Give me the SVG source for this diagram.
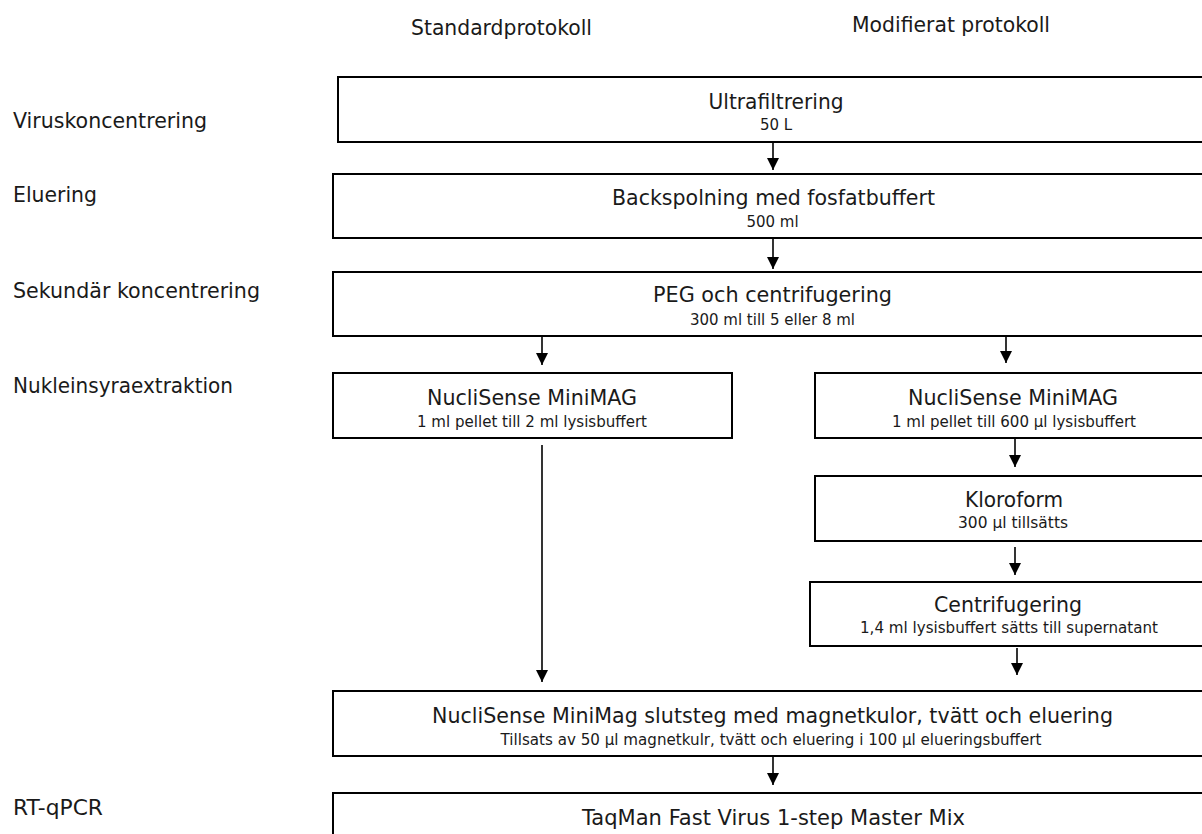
<svg xmlns="http://www.w3.org/2000/svg" width="1202" height="834" viewBox="0 0 1202 834">
<style>
.box{fill:#fff;stroke:#000;stroke-width:2}
.lbl{font-family:"DejaVu Sans",Verdana,sans-serif;font-size:20.5px;fill:#1a1a1a}
.main{font-family:"DejaVu Sans",Verdana,sans-serif;font-size:20.5px;fill:#1a1a1a;text-anchor:middle}
.sub{font-family:"DejaVu Sans",Verdana,sans-serif;font-size:15px;fill:#1a1a1a;text-anchor:middle}
.con{stroke:#000;stroke-width:1.6;fill:none}
</style>
<defs>
<marker id="ah" markerUnits="userSpaceOnUse" markerWidth="12" markerHeight="12" refX="12" refY="6" orient="auto">
<path d="M0,0 L12,6 L0,12 z" fill="#000"/>
</marker>
</defs>
<rect width="1202" height="834" fill="#fff"/>
<g id="headers">
<text class="lbl" x="411" y="35" textLength="181" lengthAdjust="spacingAndGlyphs">Standardprotokoll</text>
<text class="lbl" x="852" y="32" textLength="198" lengthAdjust="spacingAndGlyphs">Modifierat protokoll</text>
</g>
<g id="stages">
<text class="lbl" x="13" y="128" textLength="194" lengthAdjust="spacingAndGlyphs">Viruskoncentrering</text>
<text class="lbl" x="13" y="202" textLength="84" lengthAdjust="spacingAndGlyphs">Eluering</text>
<text class="lbl" x="13" y="298" textLength="247" lengthAdjust="spacingAndGlyphs">Sekundär koncentrering</text>
<text class="lbl" x="13" y="393" textLength="220" lengthAdjust="spacingAndGlyphs">Nukleinsyraextraktion</text>
<text class="lbl" x="13" y="815" textLength="90" lengthAdjust="spacingAndGlyphs">RT-qPCR</text>
</g>
<g id="connectors">
<line class="con" x1="773" y1="143" x2="773" y2="170" marker-end="url(#ah)"/>
<line class="con" x1="773" y1="239" x2="773" y2="269" marker-end="url(#ah)"/>
<line class="con" x1="542" y1="337" x2="542" y2="365" marker-end="url(#ah)"/>
<line class="con" x1="1006" y1="337" x2="1006" y2="363" marker-end="url(#ah)"/>
<line class="con" x1="1015" y1="439" x2="1015" y2="467" marker-end="url(#ah)"/>
<line class="con" x1="1015" y1="547" x2="1015" y2="575" marker-end="url(#ah)"/>
<line class="con" x1="1017" y1="648" x2="1017" y2="675" marker-end="url(#ah)"/>
<line class="con" x1="542" y1="445" x2="542" y2="682" marker-end="url(#ah)"/>
<line class="con" x1="773" y1="757" x2="773" y2="785" marker-end="url(#ah)"/>
</g>
<g id="ultrafiltrering">
<rect class="box" x="338" y="77" width="880" height="65"/>
<text class="main" x="776" y="109" textLength="135" lengthAdjust="spacingAndGlyphs">Ultrafiltrering</text>
<text class="sub" x="776" y="130">50 L</text>
</g>
<g id="backspolning">
<rect class="box" x="333" y="174" width="885" height="64"/>
<text class="main" x="773.5" y="205" textLength="323" lengthAdjust="spacingAndGlyphs">Backspolning med fosfatbuffert</text>
<text class="sub" x="772.5" y="227">500 ml</text>
</g>
<g id="peg">
<rect class="box" x="333" y="272" width="885" height="64"/>
<text class="main" x="772.5" y="302" textLength="239" lengthAdjust="spacingAndGlyphs">PEG och centrifugering</text>
<text class="sub" x="772.5" y="325" textLength="165" lengthAdjust="spacingAndGlyphs">300 ml till 5 eller 8 ml</text>
</g>
<g id="minimag-standard">
<rect class="box" x="333" y="373" width="399" height="65"/>
<text class="main" x="532" y="405" textLength="210" lengthAdjust="spacingAndGlyphs">NucliSense MiniMAG</text>
<text class="sub" x="532" y="427" textLength="230" lengthAdjust="spacingAndGlyphs">1 ml pellet till 2 ml lysisbuffert</text>
</g>
<g id="minimag-modified">
<rect class="box" x="815" y="373" width="400" height="65"/>
<text class="main" x="1013" y="405" textLength="210" lengthAdjust="spacingAndGlyphs">NucliSense MiniMAG</text>
<text class="sub" x="1014" y="427" textLength="244" lengthAdjust="spacingAndGlyphs">1 ml pellet till 600 µl lysisbuffert</text>
</g>
<g id="kloroform">
<rect class="box" x="815" y="476" width="400" height="65"/>
<text class="main" x="1014" y="507" textLength="98" lengthAdjust="spacingAndGlyphs">Kloroform</text>
<text class="sub" x="1013" y="528" textLength="110" lengthAdjust="spacingAndGlyphs">300 µl tillsätts</text>
</g>
<g id="centrifugering">
<rect class="box" x="810" y="582" width="405" height="64"/>
<text class="main" x="1008" y="612" textLength="148" lengthAdjust="spacingAndGlyphs">Centrifugering</text>
<text class="sub" x="1009" y="633" textLength="298" lengthAdjust="spacingAndGlyphs">1,4 ml lysisbuffert sätts till supernatant</text>
</g>
<g id="slutsteg">
<rect class="box" x="333" y="691" width="885" height="65"/>
<text class="main" x="772.5" y="723" textLength="681" lengthAdjust="spacingAndGlyphs">NucliSense MiniMag slutsteg med magnetkulor, tvätt och eluering</text>
<text class="sub" x="771" y="745" textLength="541" lengthAdjust="spacingAndGlyphs">Tillsats av 50 µl magnetkulr, tvätt och eluering i 100 µl elueringsbuffert</text>
</g>
<g id="taqman">
<rect class="box" x="333" y="793" width="885" height="60"/>
<text class="main" x="773.5" y="825" textLength="383" lengthAdjust="spacingAndGlyphs">TaqMan Fast Virus 1-step Master Mix</text>
</g>
</svg>
